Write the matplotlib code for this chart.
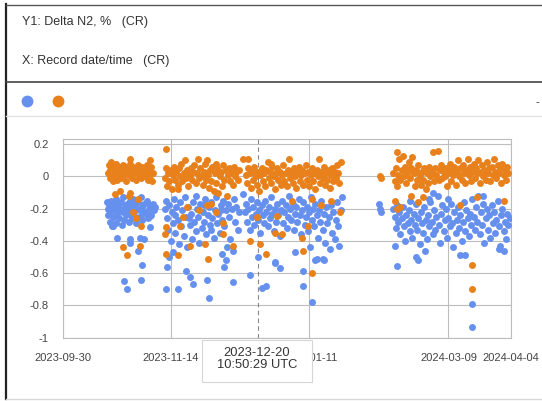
import matplotlib
matplotlib.use("Agg")
import matplotlib.pyplot as plt
import matplotlib.dates as mdates
from matplotlib.lines import Line2D
from matplotlib.patches import Rectangle
import pandas as pd

plt.rcParams["font.family"] = ["Liberation Sans", "DejaVu Sans"]

# (days after 2023-09-30, delta N2 %)
blue_oct = [(18.5,-0.16),(18.8,-0.20),(19.0,-0.24),(19.3,-0.18),(19.6,-0.28),(19.9,-0.22),(20.2,-0.15),(20.5,-0.31),
            (20.8,-0.19),(21.1,-0.25),(21.4,-0.17),(21.8,-0.21),(22.1,-0.29),(22.4,-0.14),(22.8,-0.23),(23.1,-0.18),
            (23.5,-0.26),(23.8,-0.20),(24.2,-0.16),(24.6,-0.30),(25.0,-0.22),(25.3,-0.13),(25.7,-0.27),(26.0,-0.19),
            (26.4,-0.24),(26.8,-0.17),(27.1,-0.21),(27.5,-0.28),(27.9,-0.15),(28.2,-0.23),(28.6,-0.19),(29.0,-0.26),
            (29.3,-0.14),(29.7,-0.22),(30.1,-0.18),(30.5,-0.29),(30.9,-0.20),(31.3,-0.16),(31.7,-0.25),(32.1,-0.21),
            (32.5,-0.13),(32.9,-0.27),(33.3,-0.19),(33.7,-0.23),(34.1,-0.17),(34.6,-0.22),(35.0,-0.15),(35.5,-0.26),
            (36.0,-0.20),(36.5,-0.18),(37.0,-0.24),(37.5,-0.17),(38.0,-0.21),(38.5,-0.19),
            (22.5,-0.38),(28.2,-0.39),(32.3,-0.38),(34.1,-0.39),(28.1,-0.41),(31.6,-0.46),(33.0,-0.55),
            (25.5,-0.65),(26.9,-0.70),(32.6,-0.64),(36.4,-0.315),(36.4,-0.245),(21.0,-0.305)]
blue_nov = [(42.5,-0.20),(43.0,-0.15),(43.5,-0.26),(44.0,-0.33),(44.5,-0.18),(45.0,-0.40),(45.5,-0.22),(46.0,-0.29),
            (46.5,-0.14),(47.0,-0.35),(47.5,-0.19),(48.0,-0.27),(48.5,-0.42),(49.0,-0.16),(49.5,-0.31),(50.0,-0.21),
            (50.5,-0.37),(51.0,-0.13),(51.5,-0.25),(52.0,-0.44),(52.5,-0.19),(53.0,-0.30),(53.5,-0.23),(54.0,-0.39),
            (54.5,-0.16),(55.0,-0.28),(55.5,-0.34),(56.0,-0.20),(56.5,-0.25),(57.0,-0.41),(57.5,-0.17),(58.0,-0.32),
            (58.5,-0.22),(59.0,-0.28),(59.5,-0.14),(60.0,-0.36),(60.5,-0.24),(61.0,-0.19),(61.5,-0.30),(62.0,-0.16),
            (62.5,-0.26),(63.0,-0.38),(63.5,-0.21),(64.0,-0.13),(64.5,-0.29),(65.0,-0.23),(65.5,-0.35),(66.0,-0.18),
            (66.5,-0.27),(67.0,-0.15),(67.5,-0.31),(68.0,-0.21),(68.5,-0.44),(69.0,-0.17),(69.5,-0.25),(70.0,-0.39),
            (70.5,-0.20),(71.0,-0.46),(71.5,-0.14),(72.0,-0.28),(72.5,-0.19),(73.0,-0.33),(73.5,-0.22),(46.8,-0.24),
            (55.8,-0.12),(61.8,-0.33),(66.2,-0.21),(58.8,-0.18),(52.8,-0.26),
            (43.6,-0.565),(43.2,-0.70),(48.3,-0.70),(51.5,-0.585),(53.1,-0.625),(54.2,-0.67),(60.1,-0.64),
            (61.0,-0.757),(67.3,-0.56),(71.2,-0.655),(66.3,-0.48),(68.0,-0.52),(44.5,-0.50),(46.0,-0.47)]
blue_dec = [(76.0,-0.22),(76.5,-0.17),(77.0,-0.28),(77.5,-0.20),(78.0,-0.33),(78.5,-0.14),(79.0,-0.25),(79.5,-0.19),
            (80.0,-0.30),(80.5,-0.23),(81.0,-0.16),(81.5,-0.27),(82.0,-0.21),(82.5,-0.35),(83.0,-0.18),(83.5,-0.24),
            (84.0,-0.29),(84.5,-0.15),(85.0,-0.22),(85.5,-0.31),(86.0,-0.19),(86.5,-0.26),(87.0,-0.13),(87.5,-0.23),
            (88.0,-0.34),(88.5,-0.20),(89.0,-0.28),(89.5,-0.17),(90.0,-0.24),(90.5,-0.37),(91.0,-0.21),(91.5,-0.15),
            (92.0,-0.29),(92.5,-0.22),(93.0,-0.18),(93.5,-0.32),(94.0,-0.25),(94.5,-0.12),(95.0,-0.20),(95.5,-0.27),
            (96.0,-0.17),(96.5,-0.33),(97.0,-0.23),(97.5,-0.19),(98.0,-0.28),(98.5,-0.14),(99.0,-0.24),(99.5,-0.36),
            (100.0,-0.21),(100.5,-0.16),(101.0,-0.30),(101.5,-0.25),(102.0,-0.19),(102.5,-0.34),(103.0,-0.22),
            (103.5,-0.13),(104.0,-0.27),(104.5,-0.20),(105.0,-0.31),(105.5,-0.17),(106.0,-0.24),(106.5,-0.38),
            (107.0,-0.21),(107.5,-0.28),(108.0,-0.15),(108.5,-0.33),(109.0,-0.23),(109.5,-0.41),(110.0,-0.19),
            (110.5,-0.29),(111.0,-0.25),(111.5,-0.45),(112.0,-0.18),(112.5,-0.35),(113.0,-0.22),(113.5,-0.39),
            (114.0,-0.27),(114.5,-0.16),(115.0,-0.31),(115.5,-0.43),(116.0,-0.21),(116.5,-0.13),
            (75.2,-0.107),(81.5,-0.50),(88.6,-0.53),(90.7,-0.57),(78.2,-0.61),(83.1,-0.69),(84.9,-0.683),
            (88.5,-0.54),(97.0,-0.47),(100.1,-0.585),(100.1,-0.683),(104.0,-0.78),(105.5,-0.52),(109.0,-0.52),
            (108.6,-0.51),(103.2,-0.44),(106.0,-0.51)]
blue_feb = [(132.0,-0.17),(132.5,-0.20),(133.0,-0.22)]
blue_mar = [(138.0,-0.20),(138.5,-0.25),(139.0,-0.32),(139.5,-0.18),(140.0,-0.28),(140.5,-0.22),(141.0,-0.36),
            (141.5,-0.26),(142.0,-0.19),(142.5,-0.31),(143.0,-0.40),(143.5,-0.24),(144.0,-0.29),(144.5,-0.21),
            (145.0,-0.34),(145.5,-0.27),(146.0,-0.38),(146.5,-0.23),(147.0,-0.30),(147.5,-0.17),(148.0,-0.33),
            (148.5,-0.26),(149.0,-0.42),(149.5,-0.22),(150.0,-0.29),(150.5,-0.35),(151.0,-0.19),(151.5,-0.27),
            (152.0,-0.39),(152.5,-0.24),(153.0,-0.31),(153.5,-0.16),(154.0,-0.28),(154.5,-0.36),(155.0,-0.21),
            (155.5,-0.33),(156.0,-0.25),(156.5,-0.12),(157.0,-0.30),(157.5,-0.41),(158.0,-0.23),(158.5,-0.18),
            (159.0,-0.34),(159.5,-0.27),(160.0,-0.20),(160.5,-0.38),(161.0,-0.26),(161.5,-0.31),(162.0,-0.17),
            (162.5,-0.29),(163.0,-0.44),(163.5,-0.22),(164.0,-0.35),(164.5,-0.27),(165.0,-0.19),(165.5,-0.32),
            (166.0,-0.24),(166.5,-0.40),(167.0,-0.28),(167.5,-0.16),(168.0,-0.34),(168.5,-0.21),(169.0,-0.26),
            (169.5,-0.37),(170.0,-0.23),(170.5,-0.30),(171.0,-0.14),(171.5,-0.25),(172.0,-0.33),(172.5,-0.19),
            (173.0,-0.28),(173.5,-0.12),(174.0,-0.36),(174.5,-0.22),(175.0,-0.30),(175.5,-0.17),(176.0,-0.41),
            (176.5,-0.26),(177.0,-0.20),(177.5,-0.33),(178.0,-0.24),(178.5,-0.38),(179.0,-0.18),(179.5,-0.29),
            (180.0,-0.22),(180.5,-0.35),(181.0,-0.27),(181.5,-0.15),(182.0,-0.31),(182.5,-0.43),(183.0,-0.24),
            (183.5,-0.20),(184.0,-0.34),(184.5,-0.28),(185.0,-0.39),(185.5,-0.23),(186.0,-0.30),(186.5,-0.26),
            (144.8,-0.15),(152.8,-0.14),(160.7,-0.14),
            (138.7,-0.43),(139.4,-0.555),(148.3,-0.52),(147.5,-0.50),(151.2,-0.46),(154.7,-0.10),(165.8,-0.49),
            (168.0,-0.49),(175.4,-0.12),(184.0,-0.46),(182.0,-0.45),(170.7,-0.795),(170.7,-0.935)]

orange_oct = [(19.0,0.02),(19.3,0.07),(19.6,-0.01),(19.9,0.04),(20.2,0.09),(20.5,0.00),(20.8,0.05),(21.1,-0.03),
              (21.4,0.03),(21.8,0.06),(22.1,0.01),(22.4,0.08),(22.8,-0.02),(23.1,0.04),(23.5,0.02),(23.8,0.06),
              (24.2,-0.01),(24.6,0.03),(25.0,0.07),(25.3,0.00),(25.7,0.05),(26.0,0.02),(26.4,-0.03),(26.8,0.06),
              (27.1,0.03),(27.5,0.01),(27.9,0.08),(28.2,0.11),(28.6,0.04),(29.0,-0.01),(29.3,0.06),(29.7,0.02),
              (30.1,0.05),(30.5,-0.02),(30.9,0.03),(31.3,0.07),(31.7,0.01),(32.1,0.04),(32.5,-0.01),(32.9,0.06),
              (33.3,0.02),(33.7,0.05),(34.1,0.00),(34.6,0.03),(35.0,0.07),(35.5,-0.02),(36.0,0.04),(36.4,0.01),
              (36.9,0.06),(37.3,-0.03),(37.8,0.02),(36.6,0.10),(20.2,0.08),
              (23.9,-0.09),(28.1,-0.10),(31.6,-0.14),(29.5,-0.22),(32.7,-0.305),(25.2,-0.44),(26.9,-0.485),
              (32.3,-0.43),(27.5,-0.12),(22.0,-0.11),(30.5,-0.26)]
orange_nov = [(42.5,-0.01),(43.0,0.05),(43.3,0.17),(43.6,-0.06),(44.0,0.02),(44.5,-0.03),(45.0,0.04),(45.5,-0.08),
              (46.0,0.01),(46.5,0.06),(47.0,-0.02),(47.5,0.03),(48.0,-0.05),(48.5,0.05),(49.0,0.00),(49.5,0.08),
              (50.0,-0.03),(50.5,0.02),(51.0,0.10),(51.5,-0.01),(52.0,0.04),(52.5,-0.06),(53.0,0.01),(53.5,0.05),
              (54.0,-0.02),(54.5,0.03),(55.0,0.07),(55.5,-0.04),(56.0,0.02),(56.5,0.11),(57.0,-0.01),(57.5,0.05),
              (58.0,0.00),(58.5,-0.05),(59.0,0.03),(59.5,0.08),(60.0,-0.02),(60.5,0.01),(61.0,-0.07),(61.5,0.04),
              (62.0,-0.03),(62.5,0.06),(63.0,-0.09),(63.5,0.02),(64.0,-0.04),(64.5,0.05),(65.0,-0.10),(65.5,0.00),
              (66.0,0.03),(66.5,-0.06),(67.0,0.07),(67.5,-0.02),(68.0,0.04),(68.5,-0.12),(69.0,0.01),(69.5,0.05),
              (70.0,-0.03),(70.5,0.02),(71.0,-0.05),(71.5,0.06),(72.0,0.00),(72.5,0.03),(73.0,-0.02),(73.5,0.04),
              (60.2,0.10),(63.8,0.08),
              (42.7,-0.355),(43.0,-0.315),(43.3,-0.48),(50.3,-0.25),(49.0,-0.305),(53.1,-0.43),(48.2,-0.49),
              (60.8,-0.51),(59.4,-0.42),(67.0,-0.357),(71.2,-0.43),(60.1,-0.18),(51.8,-0.19),(48.2,-0.08),
              (57.0,-0.21),(66.8,-0.29),(62.0,-0.17),(64.0,-0.22)]
orange_dec = [(76.5,0.01),(77.0,-0.04),(77.5,0.05),(78.0,0.02),(78.5,-0.07),(79.0,0.03),(79.5,-0.02),(80.0,0.06),
              (80.5,0.00),(81.0,-0.05),(81.5,0.03),(82.0,-0.09),(82.5,0.01),(83.0,0.05),(83.5,-0.03),(84.0,0.02),
              (84.5,-0.06),(85.0,0.04),(85.5,0.09),(86.0,-0.01),(86.5,0.03),(87.0,-0.04),(87.5,0.06),(88.0,0.00),
              (88.5,-0.08),(89.0,0.02),(89.5,0.05),(90.0,-0.02),(90.5,0.03),(91.0,-0.05),(91.5,0.01),(92.0,0.07),
              (92.5,-0.03),(93.0,0.02),(93.5,-0.06),(94.0,0.04),(94.5,0.11),(95.0,-0.01),(95.5,0.03),(96.0,-0.04),
              (96.5,0.05),(97.0,0.00),(97.5,-0.07),(98.0,0.02),(98.5,0.06),(99.0,-0.03),(99.5,0.01),(100.0,0.04),
              (100.5,-0.05),(101.0,0.02),(101.5,0.07),(102.0,-0.02),(102.5,0.03),(103.0,-0.06),(103.5,0.01),
              (104.0,0.05),(104.5,-0.03),(105.0,0.02),(105.5,-0.08),(106.0,0.04),(106.5,0.00),(107.0,0.11),
              (107.5,-0.04),(108.0,0.03),(108.5,-0.01),(109.0,0.06),(109.5,-0.05),(110.0,0.02),(110.5,-0.02),
              (111.0,0.04),(111.5,-0.07),(112.0,0.01),(112.5,0.05),(113.0,-0.03),(113.5,0.03),(114.0,-0.01),
              (114.5,0.07),(115.0,0.02),(115.5,-0.04),(116.0,0.09),(77.2,0.11),(86.8,0.08),
              (75.2,0.11),(78.2,-0.40),(82.3,-0.42),(85.0,-0.48),(88.6,-0.35),(91.4,-0.357),(99.7,-0.38),
              (100.3,-0.46),(103.9,-0.60),(102.5,-0.305),(115.7,-0.22),(89.3,-0.245),(95.6,-0.15),(104.0,-0.14),
              (81.0,-0.25),(108.0,-0.18),(112.0,-0.15)]
orange_feb = [(132.5,0.00),(133.0,-0.01)]
orange_mar = [(138.0,0.02),(138.5,-0.03),(139.0,0.05),(139.5,0.15),(140.0,0.01),(140.5,0.11),(141.0,-0.02),
              (141.5,0.04),(142.0,0.13),(142.5,0.00),(143.0,0.06),(143.5,-0.04),(144.0,0.03),(144.5,0.09),
              (145.0,-0.01),(145.5,0.05),(146.0,0.12),(146.5,0.02),(147.0,-0.06),(147.5,0.04),(148.0,-0.02),
              (148.5,0.07),(149.0,0.01),(149.5,-0.05),(150.0,0.03),(150.5,-0.02),(151.0,0.05),(151.5,-0.08),
              (152.0,0.02),(152.5,-0.04),(153.0,0.06),(153.5,0.00),(154.0,0.03),(154.5,0.15),(155.0,-0.03),
              (155.5,0.05),(156.0,0.01),(156.5,0.16),(157.0,-0.02),(157.5,0.04),(158.0,0.07),(158.5,-0.01),
              (159.0,0.03),(159.5,0.00),(160.0,0.05),(160.5,-0.06),(161.0,0.02),(161.5,0.08),(162.0,-0.03),
              (162.5,0.04),(163.0,0.01),(163.5,0.06),(164.0,-0.05),(164.5,0.03),(165.0,0.10),(165.5,0.00),
              (166.0,0.05),(166.5,-0.02),(167.0,0.07),(167.5,0.02),(168.0,-0.04),(168.5,0.04),(169.0,0.11),
              (169.5,0.01),(170.0,0.06),(170.5,-0.03),(171.0,0.03),(171.5,0.08),(172.0,-0.01),(172.5,0.05),
              (173.0,0.02),(173.5,0.10),(174.0,-0.04),(174.5,0.03),(175.0,0.07),(175.5,0.00),(176.0,0.04),
              (176.5,-0.02),(177.0,0.09),(177.5,0.02),(178.0,0.05),(178.5,-0.03),(179.0,0.06),(179.5,0.01),
              (180.0,0.11),(180.5,0.03),(181.0,-0.01),(181.5,0.07),(182.0,0.02),(182.5,0.05),(183.0,-0.04),
              (183.5,0.08),(184.0,0.01),(184.5,0.04),(185.0,-0.02),(185.5,0.06),(186.0,0.02),
              (139.4,-0.06),(145.4,-0.12),(150.5,-0.13),(140.8,-0.19),(138.7,-0.15),(148.4,-0.16),(139.4,-0.20),
              (165.8,-0.18),(172.8,-0.13),(184.3,-0.15),(170.7,-0.55),(170.7,-0.70)]

start = pd.Timestamp("2023-09-30")
end = pd.Timestamp("2024-04-04")
tick_dates = ["2023-09-30", "2023-11-14", "2024-01-11", "2024-03-09", "2024-04-04"]
cursor = pd.Timestamp("2023-12-20 10:50:29")
cursor_text = "2023-12-20\n10:50:29 UTC"
y_ticks = [0.2, 0, -0.2, -0.4, -0.6, -0.8, -1]

BLUE = "#6690ee"
ORANGE = "#e8801c"
W, H = 542, 401


def to_xy(pts):
    days = [p[0] for p in pts]
    vals = [p[1] for p in pts]
    return start + pd.to_timedelta(days, unit="D"), vals


fig = plt.figure(figsize=(W / 100, H / 100), dpi=100)
fig.patch.set_facecolor("white")

def fx(px):
    return px / W

def fy(py):
    return 1 - py / H

# panel frame and separators
fig.add_artist(Line2D([fx(6), fx(6)], [fy(4), fy(399)], color="#222222", lw=1.6))
fig.add_artist(Line2D([fx(6), fx(542)], [fy(4.5), fy(4.5)], color="#555555", lw=1.0))
fig.add_artist(Line2D([fx(6), fx(542)], [fy(82), fy(82)], color="#444444", lw=1.2))
fig.add_artist(Line2D([fx(6), fx(542)], [fy(116), fy(116)], color="#e2e2e2", lw=1.0))
fig.add_artist(Line2D([fx(6), fx(542)], [fy(399), fy(399)], color="#d8d8d8", lw=1.0))

fig.text(fx(22), fy(22), "Y1: Delta N2, %   (CR)", fontsize=9, color="#333333", va="center")
fig.text(fx(22), fy(61), "X: Record date/time   (CR)", fontsize=9, color="#333333", va="center")
fig.text(fx(536), fy(102), "-", fontsize=8, color="#333333", va="center")

# legend dots
fig.add_artist(Line2D([fx(27)], [fy(101)], marker="o", ms=7.5, color=BLUE, ls="none"))
fig.add_artist(Line2D([fx(58)], [fy(101)], marker="o", ms=7.5, color=ORANGE, ls="none"))

ax = fig.add_axes([fx(62.7), fy(337.5), (510.7 - 62.7) / W, (337.5 - 139.3) / H])
ax.set_xlim(start, end)
ax.set_ylim(-1.0, 0.231)

for pts in [blue_oct, blue_nov, blue_dec, blue_feb, blue_mar]:
    x, y = to_xy(pts)
    ax.scatter(x, y, s=25, color=BLUE, linewidths=0, zorder=3)
for pts in [orange_oct, orange_nov, orange_dec, orange_feb, orange_mar]:
    x, y = to_xy(pts)
    ax.scatter(x, y, s=25, color=ORANGE, linewidths=0, zorder=4)

ax.set_yticks(y_ticks)
ax.set_yticklabels(["0.2", "0", "-0.2", "-0.4", "-0.6", "-0.8", "-1"])
ax.set_xticks([pd.Timestamp(d) for d in tick_dates])
ax.xaxis.set_major_formatter(mdates.DateFormatter("%Y-%m-%d"))
ax.tick_params(length=0, labelsize=8, colors="#444444", pad=10)
ax.tick_params(axis="x", pad=11)
ax.grid(True, color="#bdbdbd", lw=0.8)
ax.set_axisbelow(True)
for s in ax.spines.values():
    s.set_color("#bdbdbd")
    s.set_linewidth(0.8)

ax.axvline(cursor, color="#888888", lw=0.8, ls=(0, (4, 3)), zorder=2)

# hover tooltip
fig.add_artist(Rectangle((fx(203), fy(383)), fx(110), 42 / H, transform=fig.transFigure,
                         fc="#e6e6e6", ec="none", zorder=9))
fig.add_artist(Rectangle((fx(201.5), fy(381.5)), fx(110), 42 / H, transform=fig.transFigure,
                         fc="white", ec="#d6d6d6", lw=0.8, zorder=10))
fig.text(fx(257), fy(359), cursor_text, ha="center", va="center", fontsize=9.3,
         color="#333333", linespacing=0.95, zorder=11)

fig.savefig("out.png", dpi=100)
